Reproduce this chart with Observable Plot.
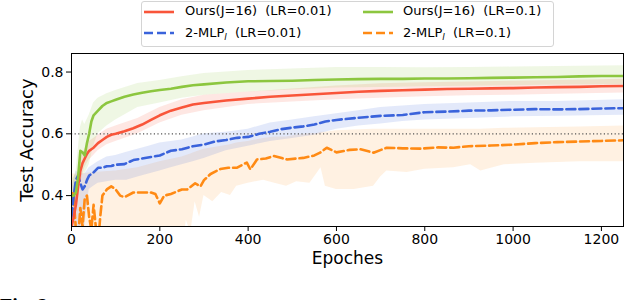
<!DOCTYPE html>
<html><head><meta charset="utf-8">
<script src="https://cdn.jsdelivr.net/npm/d3@7"></script>
<script src="https://cdn.jsdelivr.net/npm/@observablehq/plot@0.6"></script>
<style>
body{margin:0;width:640px;height:300px;overflow:hidden;background:#fff;font-family:"DejaVu Sans",sans-serif;position:relative}
#legend{position:relative;height:50px;width:640px}
#legbox{position:absolute;left:141px;top:1px;width:411px;height:44px;border:1px solid #d4d4d4;border-radius:3px}
.li{position:absolute;font-size:13px;line-height:14px;white-space:pre;color:#000}
.ls{position:absolute}
#caption{position:absolute;left:0;top:296px;font:bold 20px "Liberation Serif",serif;line-height:20px}
sub{font-size:9px;vertical-align:-3px}
</style></head><body>
<div id="legend"><div id="legbox"></div></div>
<div id="chart"></div>
<div id="caption">Fig. 2</div>
<script>
// ---- data ----
const xTicks = [0, 200, 400, 600, 800, 1000, 1200];
const yTicks = [0.4, 0.6, 0.8];
const refLine = [0.6];

const seriesNames = ["Ours(J=16)  (LR=0.01)", "Ours(J=16)  (LR=0.1)", "2-MLP_l  (LR=0.01)", "2-MLP_l  (LR=0.1)"];
const seriesColors = ["#f9553a", "#8cc63f", "#3a63db", "#ff8a14"];
const seriesDashed = [false, false, true, true];

// Ours(J=16) LR=0.01 (red)
const redEpoch = [0,5,10,15,20,25,30,35,40,45,50,60,70,80,90,100,120,140,160,180,200,225,250,275,300,350,400,450,500,550,600,650,700,750,800,850,900,950,1000,1050,1100,1150,1200,1250];
const redAcc   = [0.30,0.33,0.37,0.43,0.48,0.505,0.52,0.535,0.545,0.55,0.555,0.57,0.58,0.59,0.597,0.60,0.608,0.618,0.63,0.645,0.66,0.675,0.685,0.695,0.70,0.708,0.714,0.72,0.724,0.728,0.732,0.736,0.739,0.741,0.743,0.745,0.746,0.747,0.748,0.75,0.751,0.752,0.754,0.755];
const redBandEpoch = [0,10,20,30,40,50,60,80,100,150,200,250,300,400,500,600,700,800,900,1000,1100,1250];
const redLo = [0.28,0.34,0.44,0.49,0.515,0.53,0.545,0.565,0.575,0.60,0.635,0.66,0.675,0.695,0.703,0.71,0.715,0.72,0.723,0.725,0.728,0.732];
const redHi = [0.34,0.40,0.52,0.55,0.575,0.585,0.595,0.615,0.625,0.65,0.685,0.71,0.725,0.735,0.745,0.755,0.762,0.765,0.768,0.77,0.773,0.777];

// Ours(J=16) LR=0.1 (green)
const greenEpoch = redEpoch;
const greenAcc = [0.40,0.40,0.41,0.46,0.545,0.54,0.53,0.57,0.60,0.64,0.66,0.675,0.69,0.70,0.705,0.71,0.72,0.727,0.733,0.738,0.742,0.746,0.752,0.757,0.76,0.766,0.77,0.771,0.772,0.774,0.776,0.777,0.778,0.778,0.779,0.779,0.78,0.781,0.782,0.783,0.784,0.786,0.787,0.787];
const greenBandEpoch = [0,10,20,25,30,40,50,60,80,100,150,200,250,300,400,500,600,700,800,900,1000,1100,1250];
const greenLo = [0.36,0.37,0.46,0.47,0.47,0.50,0.56,0.60,0.625,0.645,0.685,0.70,0.715,0.725,0.735,0.742,0.748,0.75,0.752,0.754,0.756,0.758,0.76];
const greenHi = [0.45,0.47,0.62,0.645,0.63,0.66,0.70,0.715,0.73,0.74,0.763,0.773,0.785,0.795,0.805,0.81,0.815,0.815,0.814,0.815,0.816,0.818,0.82];

// 2-MLP_l LR=0.01 (blue)
const blueEpoch = [0,5,10,15,20,25,30,35,40,50,60,70,80,90,100,120,140,160,180,200,225,250,275,300,325,350,375,400,425,450,475,500,525,550,575,600,650,700,750,800,850,900,950,1000,1050,1100,1150,1200,1250];
const blueAcc   = [0.33,0.40,0.45,0.465,0.44,0.42,0.43,0.45,0.465,0.475,0.49,0.49,0.495,0.496,0.50,0.502,0.515,0.52,0.525,0.53,0.545,0.55,0.56,0.565,0.575,0.58,0.587,0.59,0.60,0.607,0.615,0.62,0.624,0.63,0.64,0.645,0.652,0.658,0.661,0.67,0.672,0.675,0.676,0.678,0.68,0.679,0.68,0.682,0.683];
const blueBandEpoch = [0,10,20,30,40,50,60,80,100,125,150,175,200,225,250,275,300,350,400,450,500,550,600,650,700,750,800,900,1000,1100,1250];
const blueLo = [0.28,0.30,0.30,0.30,0.42,0.43,0.44,0.445,0.45,0.45,0.46,0.47,0.48,0.49,0.50,0.51,0.52,0.545,0.56,0.575,0.585,0.595,0.615,0.625,0.632,0.64,0.645,0.65,0.655,0.657,0.66];
const blueHi = [0.42,0.48,0.47,0.47,0.49,0.50,0.51,0.525,0.53,0.54,0.55,0.56,0.57,0.575,0.58,0.59,0.60,0.605,0.615,0.635,0.645,0.655,0.665,0.675,0.685,0.69,0.695,0.70,0.705,0.705,0.71];

// 2-MLP_l LR=0.1 (orange)
const orangeEpoch = [0,4,8,12,16,20,25,30,35,40,45,50,55,60,65,70,80,90,100,110,120,140,160,180,190,200,210,225,250,262,280,292,300,315,337,355,374,397,405,420,440,458,488,525,550,563,578,600,630,654,684,714,750,790,830,865,900,950,1000,1050,1100,1150,1200,1250];
const orangeAcc   = [0.38,0.41,0.33,0.25,0.28,0.36,0.30,0.39,0.40,0.33,0.29,0.37,0.30,0.24,0.33,0.40,0.42,0.43,0.42,0.40,0.395,0.41,0.41,0.41,0.405,0.375,0.40,0.405,0.42,0.42,0.44,0.43,0.45,0.47,0.486,0.49,0.49,0.507,0.485,0.517,0.52,0.528,0.517,0.522,0.53,0.539,0.555,0.54,0.548,0.55,0.539,0.555,0.553,0.552,0.556,0.555,0.56,0.562,0.565,0.57,0.573,0.575,0.577,0.579];
const orangeBandEpoch = [0,20,50,100,150,200,250,260,270,280,290,300,320,340,360,374,400,435,460,487,510,540,555,565,575,600,640,684,700,714,760,800,865,904,927,980,1050,1150,1250];
const orangeLo = [0.2,0.2,0.2,0.2,0.2,0.2,0.2,0.32,0.28,0.38,0.33,0.40,0.38,0.41,0.40,0.43,0.44,0.45,0.44,0.43,0.445,0.44,0.47,0.49,0.43,0.42,0.42,0.43,0.46,0.48,0.475,0.485,0.49,0.50,0.48,0.50,0.505,0.51,0.51];
const orangeHi = [0.47,0.47,0.475,0.48,0.49,0.51,0.525,0.53,0.535,0.54,0.545,0.55,0.555,0.56,0.565,0.57,0.575,0.585,0.59,0.59,0.595,0.60,0.60,0.605,0.605,0.61,0.612,0.615,0.615,0.615,0.615,0.615,0.615,0.615,0.615,0.618,0.62,0.622,0.625];

// ---- build tables ----
const lineTable = (ep, acc) => ep.map((e, i) => ({epoch: e, acc: acc[i]}));
const bandTable = (ep, lo, hi) => ep.map((e, i) => ({epoch: e, lo: lo[i], hi: hi[i]}));
const lines = [lineTable(redEpoch, redAcc), lineTable(greenEpoch, greenAcc), lineTable(blueEpoch, blueAcc), lineTable(orangeEpoch, orangeAcc)];
const bands = [bandTable(redBandEpoch, redLo, redHi), bandTable(greenBandEpoch, greenLo, greenHi), bandTable(blueBandEpoch, blueLo, blueHi), bandTable(orangeBandEpoch, orangeLo, orangeHi)];
const bandOpacity = [0.14, 0.14, 0.14, 0.12];
const DASH = "9,4";

const bandOrder = [3, 2, 0, 1];
const lineOrder = [3, 2, 0, 1];

const chart = Plot.plot({
  width: 640, height: 222,
  marginTop: 3, marginLeft: 71, marginRight: 17, marginBottom: 46,
  style: {fontFamily: "DejaVu Sans, sans-serif", fontSize: "14px", color: "#000", background: "#fff"},
  x: {domain: [0, 1250]},
  y: {domain: [0.3, 0.86]},
  marks: [
    ...bandOrder.map(i => Plot.areaY(bands[i], {x: "epoch", y1: "lo", y2: "hi", fill: seriesColors[i], fillOpacity: bandOpacity[i], clip: true})),
    Plot.ruleY(refLine, {stroke: "#555", strokeWidth: 1.3, strokeDasharray: "1.2,2.4"}),
    ...lineOrder.map(i => Plot.line(lines[i], {x: "epoch", y: "acc", stroke: seriesColors[i], strokeWidth: 2.6, strokeDasharray: seriesDashed[i] ? DASH : null, clip: true})),
    Plot.axisX({ticks: xTicks, tickSize: 5, tickPadding: 3, fontSize: 14, tickFormat: d3.format("d"), label: null}),
    Plot.axisY({ticks: yTicks, tickSize: 5, tickPadding: 3, fontSize: 14, tickFormat: d3.format(".1f"), label: null}),
    Plot.frame({stroke: "#000", strokeWidth: 1}),
    Plot.text(["Epoches"], {frameAnchor: "bottom", dy: 37, fontSize: 17, textAnchor: "middle"}),
    Plot.text(["Test Accuracy"], {frameAnchor: "left", dx: -44, rotate: -90, fontSize: 18, textAnchor: "middle"})
  ]
});
document.getElementById("chart").appendChild(chart);

// ---- legend ----
const legend = document.getElementById("legend");
const legendPos = [[144, 185, 11.7], [363, 403, 11.7], [144, 185, 33.3], [363, 403, 33.3]];
seriesNames.forEach((name, i) => {
  const [sx, tx, cy] = legendPos[i];
  const svgNS = "http://www.w3.org/2000/svg";
  const s = document.createElementNS(svgNS, "svg");
  s.setAttribute("width", 32); s.setAttribute("height", 8);
  s.setAttribute("class", "ls");
  s.style.left = sx + "px"; s.style.top = (cy - 4) + "px";
  const l = document.createElementNS(svgNS, "line");
  l.setAttribute("x1", 0); l.setAttribute("x2", 30); l.setAttribute("y1", 4); l.setAttribute("y2", 4);
  l.setAttribute("stroke", seriesColors[i]); l.setAttribute("stroke-width", 2.6);
  if (seriesDashed[i]) l.setAttribute("stroke-dasharray", DASH);
  s.appendChild(l);
  legend.appendChild(s);
  const t = document.createElement("div");
  t.className = "li";
  t.style.left = tx + "px"; t.style.top = (cy - 7.5) + "px";
  const parts = name.split("_l");
  if (parts.length > 1) {
    t.appendChild(document.createTextNode(parts[0]));
    const sub = document.createElement("sub"); const it = document.createElement("i"); it.textContent = "l"; sub.appendChild(it);
    t.appendChild(sub);
    t.appendChild(document.createTextNode(parts[1]));
  } else t.textContent = name;
  legend.appendChild(t);
});
</script>
</body></html>
